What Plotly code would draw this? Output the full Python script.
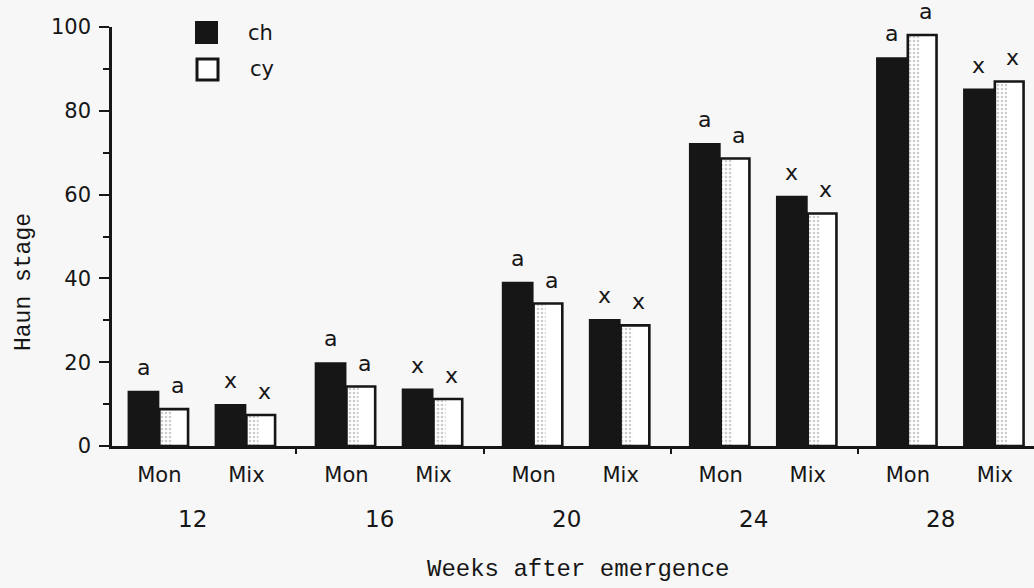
import plotly.graph_objects as go

# ---- data ----
weeks = ["12", "16", "20", "24", "28"]
systems = ["Mon", "Mix"]
series_names = ["ch", "cy"]
ch_mon = [13.2, 20.0, 39.2, 72.3, 92.8]
cy_mon = [8.8, 14.2, 34.0, 68.6, 98.1]
ch_mix = [10.0, 13.7, 30.3, 59.7, 85.3]
cy_mix = [7.4, 11.2, 28.8, 55.5, 87.0]
letters_mon = ["a", "a", "a", "a", "a"]
letters_mix = ["x", "x", "x", "x", "x"]
y_ticks = [0, 20, 40, 60, 80, 100]

# ---- layout geometry (pixels of the 1034x588 page) ----
W, H = 1034, 588
L, R, T, B = 112, 0, 27, 142
PW, PH = W - L - R, H - T - B
STEP = 2.15          # distance between weeks (Mon->Mix distance = 1)
W_CH, W_CY = 0.365, 0.33
W_SHADE = 0.13
INK = "#161616"
BG = "#f7f7f7"
SANS = "DejaVu Sans"
MONO = "Liberation Mono"


def px_x(px):
    return (px - L) / PW


def px_y(py):
    return (H - B - py) / PH


pos, ch_vals, cy_vals, letters = [], [], [], []
for i, wk in enumerate(weeks):
    for j, s in enumerate(systems):
        pos.append(i * STEP + j)
        ch_vals.append(ch_mon[i] if s == "Mon" else ch_mix[i])
        cy_vals.append(cy_mon[i] if s == "Mon" else cy_mix[i])
        letters.append(letters_mon[i] if s == "Mon" else letters_mix[i])
tick_text = [s for _ in weeks for s in systems]

fig = go.Figure()
fig.add_trace(go.Bar(
    x=pos, y=ch_vals, name=series_names[0], width=W_CH, offset=-W_CH,
    marker=dict(color=INK, line=dict(width=0)),
))
# cy: white body, light stippled shading next to the black bar, then outline
fig.add_trace(go.Bar(
    x=pos, y=cy_vals, name=series_names[1], width=W_CY, offset=0,
    marker=dict(color="white", line=dict(width=0)),
))
fig.add_trace(go.Bar(
    x=pos, y=cy_vals, name=series_names[1], width=W_SHADE, offset=0.01,
    marker=dict(color="white", line=dict(width=0),
                pattern=dict(shape=".", fgcolor="#9a9a9a", bgcolor="white",
                             size=4, solidity=0.35)),
))
fig.add_trace(go.Bar(
    x=pos, y=cy_vals, name=series_names[1], width=W_CY, offset=0,
    marker=dict(color="rgba(0,0,0,0)", line=dict(color=INK, width=2.6)),
))

ann = []
for p, v1, v2, lt in zip(pos, ch_vals, cy_vals, letters):
    for xc, v in ((p - W_CH / 2, v1), (p + W_CY / 2 + 0.04, v2)):
        ann.append(dict(x=xc, y=v, xref="x", yref="y", text=lt, showarrow=False,
                        yanchor="bottom", yshift=9, font=dict(family=SANS, size=22, color=INK)))

for i, wk in enumerate(weeks):
    ann.append(dict(x=i * STEP + 0.5 - 0.12, y=px_y(519), xref="x", yref="paper", text=wk,
                    showarrow=False, yanchor="middle", font=dict(family=SANS, size=23, color=INK)))

ann.append(dict(x=px_x(578), y=px_y(569), xref="paper", yref="paper",
                text="Weeks after emergence", showarrow=False, xanchor="center",
                yanchor="middle", font=dict(family=MONO, size=24, color=INK)))
ann.append(dict(x=px_x(24), y=px_y(282), xref="paper", yref="paper",
                text="Haun stage", textangle=-90, showarrow=False,
                xanchor="center", yanchor="middle",
                font=dict(family=MONO, size=23, color=INK)))

# legend drawn by hand
shapes = [
    dict(type="rect", xref="paper", yref="paper", x0=px_x(195), x1=px_x(218),
         y0=px_y(44), y1=px_y(21), fillcolor=INK, line=dict(width=0)),
    dict(type="rect", xref="paper", yref="paper", x0=px_x(197), x1=px_x(218),
         y0=px_y(80), y1=px_y(59), fillcolor="white", line=dict(color=INK, width=3)),
]
ann.append(dict(x=px_x(246), y=px_y(33), xref="paper", yref="paper", text=series_names[0],
                showarrow=False, xanchor="left", yanchor="middle",
                font=dict(family=SANS, size=21, color=INK)))
ann.append(dict(x=px_x(248), y=px_y(69), xref="paper", yref="paper", text=series_names[1],
                showarrow=False, xanchor="left", yanchor="middle",
                font=dict(family=SANS, size=21, color=INK)))

boundaries = [i * STEP + 1 + (STEP - 1) / 2 for i in range(len(weeks) - 1)]

fig.update_layout(
    width=W, height=H, margin=dict(l=L, r=R, t=T, b=B, autoexpand=False),
    paper_bgcolor=BG, plot_bgcolor=BG, showlegend=False, barmode="overlay",
    annotations=ann, shapes=shapes,
    xaxis=dict(range=[-0.544, 10.05], tickmode="array", tickvals=pos,
               ticktext=tick_text, ticks="", showline=True, linecolor=INK, linewidth=2.5,
               showgrid=False, zeroline=False, ticklabelstandoff=8,
               tickfont=dict(family=SANS, size=21, color=INK),
               minor=dict(tickmode="array", tickvals=boundaries, ticks="outside",
                          ticklen=5, tickwidth=1.5, tickcolor=INK, showgrid=False),
               fixedrange=True),
    yaxis=dict(range=[0, 100], tickmode="array", tickvals=y_ticks, ticks="outside",
               ticklen=10, tickwidth=2, tickcolor=INK, showline=True, linecolor=INK,
               linewidth=2.5, showgrid=False, zeroline=False, ticklabelstandoff=4,
               tickfont=dict(family=SANS, size=21, color=INK),
               minor=dict(dtick=10, ticks="outside", ticklen=6, tickwidth=2,
                          tickcolor=INK, showgrid=False),
               fixedrange=True),
)

fig.write_html("out.html")
